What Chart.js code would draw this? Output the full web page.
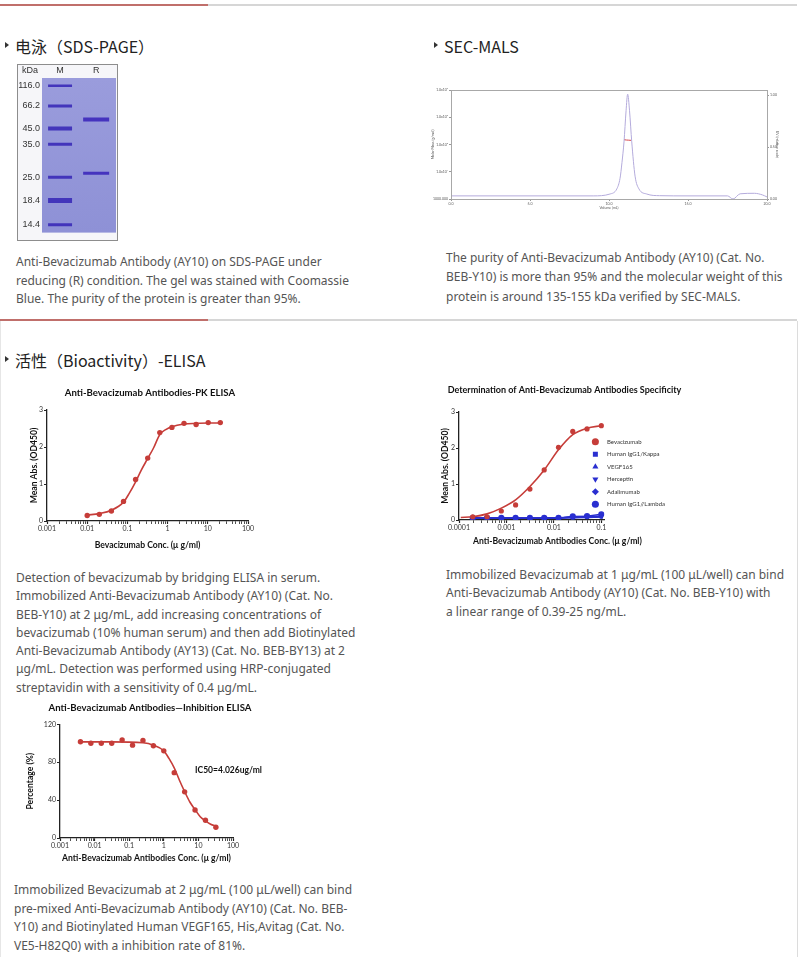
<!DOCTYPE html>
<html>
<head>
<meta charset="utf-8">
<script src="https://cdn.jsdelivr.net/npm/chart.js@4.4.0/dist/chart.umd.min.js"></script>
<style>
body { margin: 0; background: #fff; }
#page { position: relative; width: 800px; height: 957px; overflow: hidden; font-family: "Noto Sans", sans-serif; }
.rule { position: absolute; left: 0; width: 797px; height: 2px; background: #d6d6d6; }
.rule i { position: absolute; left: 0; top: 0; width: 208px; height: 2px; background: #c06f6b; }
.frame { position: absolute; left: 0; top: 321px; width: 796px; height: 640px; border-left: 1px solid #e6e6e6; border-right: 1px solid #dcdcdc; }
h3 { position: absolute; margin: 0; font: 16px/22px "Noto Sans CJK SC", sans-serif; color: #222; font-weight: normal; white-space: nowrap; }
h3:before { content: ""; position: absolute; left: -10px; top: 7px; border-left: 4px solid #333; border-top: 3px solid transparent; border-bottom: 3px solid transparent; }
p { position: absolute; margin: 0; font-size: 12px; line-height: 18.5px; color: #555; white-space: nowrap; }
.box { position: absolute; }
#gelBorder { position: absolute; left: 17px; top: 64px; width: 99px; height: 175px; border: 1px solid #8d8d8d; }
#kda { position: absolute; left: 22px; top: 65px; font: 9px "Liberation Sans Narrow", "Liberation Sans", sans-serif; color: #333; }
</style>
</head>
<body>
<div id="page">
  <div class="rule" style="top:4px"><i></i></div>
  <div class="rule" style="top:319px"><i></i></div>
  <div class="frame"></div>

  <h3 style="left:15px; top:35px">电泳（SDS-PAGE）</h3>
  <h3 style="left:444px; top:35px">SEC-MALS</h3>
  <h3 style="left:15px; top:349px">活性（Bioactivity）-ELISA</h3>

  <div class="box" style="left:18px; top:65px; width:99px; height:175px"><canvas id="gel"></canvas></div>
  <div id="gelBorder"></div>
  <div id="kda">kDa</div>
  <div class="box" style="left:425px; top:82px; width:356px; height:130px"><canvas id="sec"></canvas></div>
  <div class="box" style="left:20px; top:384px; width:260px; height:172px"><canvas id="pk"></canvas></div>
  <div class="box" style="left:436px; top:382px; width:261px; height:172px"><canvas id="spec"></canvas></div>
  <div class="box" style="left:8px; top:700px; width:284px; height:170px"><canvas id="inhib"></canvas></div>

  <p style="left:16px; top:253px">Anti-Bevacizumab Antibody (AY10) on SDS-PAGE under<br>reducing (R) condition. The gel was stained with Coomassie<br>Blue. The purity of the protein is greater than 95%.</p>
  <p style="left:446px; top:248px; line-height:19.3px">The purity of Anti-Bevacizumab Antibody (AY10) (Cat. No.<br>BEB-Y10) is more than 95% and the molecular weight of this<br>protein is around 135-155 kDa verified by SEC-MALS.</p>
  <p style="left:16px; top:569px; line-height:18.3px">Detection of bevacizumab by bridging ELISA in serum.<br>Immobilized Anti-Bevacizumab Antibody (AY10) (Cat. No.<br>BEB-Y10) at 2 μg/mL, add increasing concentrations of<br>bevacizumab (10% human serum) and then add Biotinylated<br>Anti-Bevacizumab Antibody (AY13) (Cat. No. BEB-BY13) at 2<br>μg/mL. Detection was performed using HRP-conjugated<br>streptavidin with a sensitivity of 0.4 μg/mL.</p>
  <p style="left:446px; top:566px; line-height:18.3px">Immobilized Bevacizumab at 1 μg/mL (100 μL/well) can bind<br>Anti-Bevacizumab Antibody (AY10) (Cat. No. BEB-Y10) with<br>a linear range of 0.39-25 ng/mL.</p>
  <p style="left:14px; top:881px; line-height:18.7px">Immobilized Bevacizumab at 2 μg/mL (100 μL/well) can bind<br>pre-mixed Anti-Bevacizumab Antibody (AY10) (Cat. No. BEB-<br>Y10) and Biotinylated Human VEGF165, His,Avitag (Cat. No.<br>VE5-H82Q0) with a inhibition rate of 81%.</p>
</div>

<script>
// ---- data ----

// SDS-PAGE: marker ladder and reduced sample bands (relative migration, 0 = top of gel)
const gelLanes = ['M', 'R'];
const gelMarkerKDa = [116.0, 66.2, 45.0, 35.0, 25.0, 18.4, 14.4];
const gelMarkerMigration = [5.0, 18.1, 32.7, 42.8, 64.2, 79.2, 95.0];
const gelMarkerThickness = [2.5, 3, 4, 3, 3, 5, 3];
const gelSampleMigration = [26.9, 61.6];
const gelSampleThickness = [4, 3];

// SEC-MALS trace
const secVolumeTicks = [0, 5, 10, 15, 20];
const secVolume = [0, 5, 9, 10.06, 10.49, 10.7, 10.82, 10.95, 11.08, 11.18, 11.3, 11.44, 11.65, 11.9, 12.39, 13.2, 15, 17.5, 17.85, 18.3, 19.2, 19.7, 20];
const secSignal = [0.03, 0.03, 0.03, 0.048, 0.096, 0.2, 0.35, 0.55, 0.85, 1.01, 0.85, 0.55, 0.22, 0.096, 0.048, 0.032, 0.03, 0.03, 0.0, 0.05, 0.055, 0.04, 0.02];
const secMassVolume = [10.95, 11.1, 11.25, 11.4];
const secMass = [1.5e5, 1.46e5, 1.44e5, 1.42e5];

// PK ELISA
const pkDecades = [0.001, 0.01, 0.1, 1, 10, 100];
const pkConc = [0.01, 0.02, 0.04, 0.08, 0.16, 0.32, 0.64, 1.28, 2.56, 5.12, 10.24, 20.48];
const pkOD = [0.15, 0.18, 0.27, 0.53, 1.12, 1.70, 2.39, 2.53, 2.64, 2.61, 2.66, 2.66];
const pkFitConc = [0.01, 0.02, 0.04, 0.08, 0.11, 0.16, 0.22, 0.32, 0.45, 0.64, 0.9, 1.28, 2.56, 5.12, 10.24, 20.48];
const pkFitOD = [0.16, 0.2, 0.29, 0.51, 0.74, 1.06, 1.37, 1.69, 1.98, 2.34, 2.47, 2.55, 2.62, 2.64, 2.65, 2.65];

// Specificity ELISA
const specDecades = [0.0001, 0.001, 0.01, 0.1];
const specConc = [0.000195, 0.00039, 0.00078, 0.00156, 0.003125, 0.00625, 0.0125, 0.025, 0.05, 0.1];
const specNames = ['Bevacizumab', 'Human IgG1/Kappa', 'VEGF165', 'Herceptin', 'Adalimumab', 'Human IgG1//Lambda'];
const specBevacizumab = [0.09, 0.09, 0.25, 0.42, 0.86, 1.39, 2.02, 2.46, 2.53, 2.62];
const specKappa = [0.05, 0.05, 0.05, 0.05, 0.05, 0.05, 0.05, 0.06, 0.07, 0.08];
const specVegf = [0.05, 0.05, 0.05, 0.05, 0.05, 0.05, 0.05, 0.07, 0.08, 0.09];
const specHerceptin = [0.06, 0.06, 0.06, 0.06, 0.05, 0.06, 0.06, 0.08, 0.09, 0.10];
const specAdalimumab = [0.05, 0.05, 0.05, 0.05, 0.05, 0.05, 0.05, 0.09, 0.10, 0.11];
const specLambda = [0.06, 0.06, 0.06, 0.06, 0.06, 0.06, 0.06, 0.10, 0.11, 0.16];
const specFitConc = [0.000109, 0.000195, 0.00039, 0.00078, 0.00156, 0.003125, 0.00625, 0.0125, 0.025, 0.05, 0.1];
const specFitOD = [0.07, 0.09, 0.17, 0.33, 0.56, 0.93, 1.39, 1.95, 2.37, 2.55, 2.62];

// Inhibition ELISA
const inhibDecades = [0.001, 0.01, 0.1, 1, 10, 100];
const inhibConc = [0.0039, 0.0078, 0.0156, 0.0313, 0.0625, 0.125, 0.25, 0.5, 1, 2, 4, 8, 16, 32];
const inhibPct = [101.6, 100, 100, 100, 103.4, 98, 103, 97.4, 92, 69, 48.7, 29.6, 18.7, 11.3];
const inhibFitConc = [0.0039, 0.03, 0.25, 0.5, 1, 1.41, 2, 2.83, 4, 5.66, 8, 11.3, 16, 22.6, 32];
const inhibFitPct = [101.5, 101.5, 100.5, 98, 92, 84, 74, 61, 49, 38, 30, 22.5, 18, 14.5, 12.5];
const inhibLabel = 'IC50=4.026ug/ml';

// ---- helpers ----

Chart.defaults.font.family = 'Lato, "Open Sans", sans-serif';
Chart.defaults.color = '#222';
Chart.defaults.animation = false;
Chart.defaults.events = [];
Chart.defaults.plugins.tooltip.enabled = false;

const RED = '#c63d39';
const BLUE = '#2a2fd0';
const AXIS_TITLE = { size: 8.6, weight: 'bold' };
const TICK_FONT = { size: 7 };

const pts = (xs, ys) => xs.map((x, i) => ({ x, y: ys[i] }));

function isDecade(v) {
    const l = Math.log10(v);
    return Math.abs(l - Math.round(l)) < 1e-6;
}

function logX(min, max, decades, height, title, titlePad) {
    return {
        type: 'logarithmic',
        min, max,
        afterBuildTicks: s => {
            const list = [];
            decades.forEach(d => { for (let k = 1; k <= 9; k++) list.push(d * k); });
            s.ticks = list.filter(v => v >= min * 0.999 && v <= max * 1.001)
                .map(v => ({ value: v, major: isDecade(v) }));
        },
        afterFit: s => { s.height = height; },
        ticks: {
            autoSkip: false, maxRotation: 0, padding: 1,
            font: TICK_FONT, color: '#333',
            callback: v => isDecade(v) ? String(v) : ''
        },
        grid: {
            drawOnChartArea: false, tickLength: 3, tickColor: '#222',
            tickWidth: c => (c.tick && c.tick.major) ? 1.2 : 0.8
        },
        border: { color: '#222', width: 1.3 },
        title: {
            display: !!title, text: title, color: '#111',
            font: AXIS_TITLE, padding: { top: 0, bottom: titlePad }
        }
    };
}

function linY(min, max, step, width, title, titlePad) {
    return {
        type: 'linear',
        min, max,
        afterFit: s => { s.width = width; },
        ticks: { stepSize: step, padding: 1, font: TICK_FONT, color: '#333' },
        grid: { drawOnChartArea: false, tickLength: 3, tickColor: '#222', tickWidth: 1.2 },
        border: { color: '#222', width: 1.3 },
        title: {
            display: true, text: title, color: '#111',
            font: AXIS_TITLE, padding: { top: titlePad, bottom: 0 }
        }
    };
}

// empty right-hand box so the chart title centres over the whole canvas
function spacerY(width) {
    return {
        type: 'linear', position: 'right',
        afterFit: s => { s.width = width; },
        ticks: { display: false },
        grid: { display: false },
        border: { display: false }
    };
}

function chartTitle(text, size, top, bottom) {
    return {
        display: true, text, color: '#111',
        font: { size, weight: 'bold' },
        padding: { top, bottom }
    };
}

// ---- SDS-PAGE gel ----

const gelPaint = {
    id: 'gelPaint',
    beforeDraw(chart) {
        const { ctx, chartArea: a } = chart;
        ctx.save();
        ctx.fillStyle = '#f6f6f9';
        ctx.fillRect(0, 0, chart.width, chart.height);
        const g = ctx.createLinearGradient(0, a.top, 0, a.bottom);
        g.addColorStop(0, '#9a9cdc');
        g.addColorStop(1, '#8e91d6');
        ctx.fillStyle = g;
        ctx.fillRect(a.left, a.top, a.right - a.left, a.bottom - a.top);
        ctx.restore();
    }
};

new Chart(document.getElementById('gel'), {
    type: 'scatter',
    data: {
        datasets: [
            {
                data: gelMarkerMigration.map(y => ({ x: 1, y })),
                pointStyle: 'line', pointRadius: 12,
                borderColor: 'rgba(60,44,184,0.92)',
                pointBorderWidth: gelMarkerThickness
            },
            {
                data: gelSampleMigration.map(y => ({ x: 2, y })),
                pointStyle: 'line', pointRadius: 13,
                borderColor: 'rgba(62,42,188,0.92)',
                pointBorderWidth: gelSampleThickness
            }
        ]
    },
    options: {
        responsive: true,
        maintainAspectRatio: false,
        layout: { autoPadding: false, padding: { right: 1, bottom: 3 } },
        plugins: { legend: { display: false } },
        scales: {
            x: {
                type: 'linear', position: 'top', min: 0.5, max: 2.55,
                afterBuildTicks: s => { s.ticks = gelLanes.map((l, i) => ({ value: i + 1 })); },
                afterFit: s => { s.height = 13; },
                ticks: {
                    padding: 2, color: '#333',
                    font: { size: 9, family: '"Liberation Sans Narrow", "Liberation Sans", sans-serif' },
                    callback: v => gelLanes[v - 1]
                },
                grid: { display: false, drawTicks: false },
                border: { display: false }
            },
            y: {
                type: 'linear', reverse: true, min: 0, max: 100,
                afterBuildTicks: s => { s.ticks = gelMarkerMigration.map(v => ({ value: v })); },
                afterFit: s => { s.width = 24; },
                ticks: {
                    padding: 2, color: '#333',
                    font: { size: 9, family: '"Liberation Sans Narrow", "Liberation Sans", sans-serif' },
                    callback: v => gelMarkerKDa[gelMarkerMigration.indexOf(v)].toFixed(1)
                },
                grid: { display: false, drawTicks: false },
                border: { display: false }
            }
        }
    },
    plugins: [gelPaint]
});

// ---- SEC-MALS ----

const secFrame = {
    id: 'secFrame',
    afterDraw(chart) {
        const { ctx, chartArea: a } = chart;
        ctx.save();
        ctx.strokeStyle = '#a8a8a8';
        ctx.lineWidth = 1;
        ctx.strokeRect(a.left + 0.5, a.top + 0.5, a.right - a.left, a.bottom - a.top);
        ctx.restore();
    }
};

const sup = { 3: '³', 4: '⁴', 5: '⁵', 6: '⁶', 7: '⁷' };
const tiny = { size: 3.5 };

new Chart(document.getElementById('sec'), {
    type: 'scatter',
    data: {
        datasets: [
            {
                data: pts(secVolume, secSignal), yAxisID: 'ySig',
                showLine: true, pointRadius: 0, borderColor: '#b4abdc', borderWidth: 1,
                cubicInterpolationMode: 'monotone'
            },
            {
                data: pts(secMassVolume, secMass), yAxisID: 'yMass',
                showLine: true, pointRadius: 0, borderColor: '#d8464a', borderWidth: 1
            }
        ]
    },
    options: {
        responsive: true,
        maintainAspectRatio: false,
        layout: { padding: { top: 8 } },
        plugins: { legend: { display: false } },
        scales: {
            x: {
                type: 'linear', min: 0, max: 20,
                afterBuildTicks: s => { s.ticks = secVolumeTicks.map(v => ({ value: v })); },
                afterFit: s => { s.height = 13; },
                ticks: { font: tiny, padding: 1, color: '#555', callback: v => v.toFixed(1) },
                grid: { drawOnChartArea: false, tickLength: 2, tickColor: '#999' },
                border: { color: '#a8a8a8' },
                title: { display: true, text: 'Volume (mL)', font: tiny, color: '#555', padding: { top: 0, bottom: 2 } }
            },
            yMass: {
                type: 'logarithmic', position: 'left', min: 1e3, max: 1e7,
                afterBuildTicks: s => { s.ticks = [1e3, 1e4, 1e5, 1e6, 1e7].map(v => ({ value: v })); },
                afterFit: s => { s.width = 26; },
                ticks: {
                    font: tiny, padding: 1, color: '#555',
                    callback: v => v === 1e3 ? '1000.000' : '1.0x10' + sup[Math.round(Math.log10(v))]
                },
                grid: { drawOnChartArea: false, tickLength: 2, tickColor: '#999' },
                border: { color: '#a8a8a8' },
                title: { display: true, text: 'Molar Mass (g/mol)', font: tiny, color: '#555', padding: { top: 6, bottom: 0 } }
            },
            ySig: {
                type: 'linear', position: 'right', min: 0, max: 1.05,
                afterBuildTicks: s => { s.ticks = [0, 0.5, 1].map(v => ({ value: v })); },
                afterFit: s => { s.width = 14; },
                ticks: { font: tiny, padding: 1, color: '#555', callback: v => v.toFixed(2) },
                grid: { drawOnChartArea: false, tickLength: 2, tickColor: '#999' },
                border: { color: '#a8a8a8' },
                title: { display: true, text: 'UV (relative scale)', font: tiny, color: '#555', padding: { top: 2, bottom: 0 } }
            }
        }
    },
    plugins: [secFrame]
});

// ---- PK ELISA ----

new Chart(document.getElementById('pk'), {
    type: 'scatter',
    data: {
        datasets: [
            {
                data: pts(pkFitConc, pkFitOD), showLine: true, pointRadius: 0,
                borderColor: RED, borderWidth: 1.6, cubicInterpolationMode: 'monotone'
            },
            {
                data: pts(pkConc, pkOD), pointRadius: 2.7,
                backgroundColor: RED, borderWidth: 0
            }
        ]
    },
    options: {
        responsive: true,
        maintainAspectRatio: false,
        plugins: {
            legend: { display: false },
            title: chartTitle('Anti-Bevacizumab Antibodies-PK ELISA', 9.6, 3.5, 11)
        },
        scales: {
            x: logX(0.001, 100, pkDecades, 35, 'Bevacizumab Conc. (μ g/ml)', 6),
            y: linY(0, 3, 1, 27, 'Mean Abs. (OD450)', 9),
            yR: spacerY(32)
        }
    }
});

// ---- Specificity ELISA ----

// the legend overlaps the plot edge and the x title starts right of the y axis
const specExtras = {
    id: 'specExtras',
    afterLayout(chart) {
        const lg = chart.legend;
        const dx = (chart.chartArea.right - 18) - lg.left;
        lg.left += dx;
        lg.right += dx;
        lg.top += 5;
        lg.bottom += 5;
    },
    afterDraw(chart) {
        const { ctx, chartArea } = chart;
        ctx.save();
        ctx.font = 'bold 8.6px Lato, "Open Sans", sans-serif';
        ctx.fillStyle = '#111';
        ctx.textAlign = 'left';
        ctx.textBaseline = 'middle';
        ctx.fillText('Anti-Bevacizumab Antibodies Conc. (μ g/ml)', chartArea.left + 14, chartArea.bottom + 21);
        ctx.restore();
    }
};

const specStyles = [
    ['circle', 0, 2.6], ['rect', 0, 2.3], ['triangle', 0, 2.4],
    ['triangle', 180, 2.4], ['rectRot', 0, 2.4], ['circle', 0, 3.1]
];
const specSeries = [specKappa, specVegf, specHerceptin, specAdalimumab, specLambda];

new Chart(document.getElementById('spec'), {
    type: 'scatter',
    data: {
        datasets: [
            {
                label: 'fit', data: pts(specFitConc, specFitOD), showLine: true, pointRadius: 0,
                borderColor: RED, borderWidth: 1.6, cubicInterpolationMode: 'monotone'
            },
            {
                label: specNames[0], data: pts(specConc, specBevacizumab),
                pointStyle: 'circle', pointRadius: 2.6, backgroundColor: RED, borderColor: RED, borderWidth: 0
            },
            ...specSeries.map((ys, i) => ({
                label: specNames[i + 1], data: pts(specConc, ys), showLine: true,
                pointStyle: specStyles[i + 1][0], pointRotation: specStyles[i + 1][1],
                pointRadius: specStyles[i + 1][2],
                backgroundColor: BLUE, borderColor: BLUE, borderWidth: 1.3, pointBorderWidth: 0
            }))
        ]
    },
    options: {
        responsive: true,
        maintainAspectRatio: false,
        layout: { padding: { right: 4 } },
        plugins: {
            legend: {
                position: 'right', align: 'center', maxWidth: 120,
                labels: {
                    usePointStyle: true, boxWidth: 5, boxHeight: 5, padding: 6.5,
                    font: { size: 6 }, color: '#333',
                    generateLabels: chart => Chart.defaults.plugins.legend.labels.generateLabels(chart)
                        .filter(item => item.datasetIndex !== 0)
                        .map(item => Object.assign(item, { text: '    ' + item.text }))
                }
            },
            title: chartTitle('Determination of Anti-Bevacizumab Antibodies Specificity', 9, 2.2, 17)
        },
        scales: {
            x: logX(0.0001, 0.116, specDecades, 34, '', 0),
            y: linY(0, 3, 1, 23, 'Mean Abs. (OD450)', 4)
        }
    },
    plugins: [specExtras]
});

// ---- Inhibition ELISA ----

const ic50Note = {
    id: 'ic50Note',
    afterDraw(chart) {
        const { ctx, scales } = chart;
        ctx.save();
        ctx.font = 'bold 8.5px Lato, "Open Sans", sans-serif';
        ctx.fillStyle = '#111';
        ctx.textAlign = 'left';
        ctx.textBaseline = 'middle';
        ctx.fillText(inhibLabel, scales.x.getPixelForValue(8), scales.y.getPixelForValue(72));
        ctx.restore();
    }
};

new Chart(document.getElementById('inhib'), {
    type: 'scatter',
    data: {
        datasets: [
            {
                data: pts(inhibFitConc, inhibFitPct), showLine: true, pointRadius: 0,
                borderColor: RED, borderWidth: 1.6, cubicInterpolationMode: 'monotone'
            },
            {
                data: pts(inhibConc, inhibPct), pointRadius: 2.7,
                backgroundColor: RED, borderWidth: 0
            }
        ]
    },
    options: {
        responsive: true,
        maintainAspectRatio: false,
        plugins: {
            legend: { display: false },
            title: chartTitle('Anti-Bevacizumab Antibodies—Inhibition ELISA', 9.6, 2.2, 10.6)
        },
        scales: {
            x: logX(0.001, 100, inhibDecades, 32, 'Anti-Bevacizumab Antibodies Conc. (μ g/ml)', 7),
            y: linY(0, 120, 40, 52, 'Percentage (%)', 17),
            yR: spacerY(59)
        }
    },
    plugins: [ic50Note]
});
</script>
</body>
</html>
